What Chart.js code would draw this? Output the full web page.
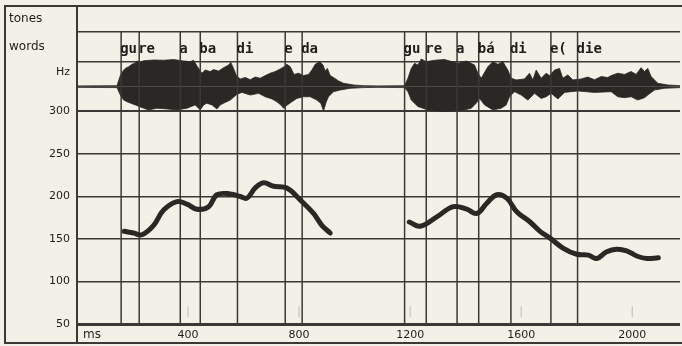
<!DOCTYPE html>
<html>
<head>
<meta charset="utf-8">
<script src="https://cdn.jsdelivr.net/npm/chart.js@4/dist/chart.umd.min.js"></script>
<style>
  html, body { margin: 0; padding: 0; background: #f3f1e7; }
  canvas { display: block; }
</style>
</head>
<body>
<canvas id="pitch" width="682" height="346"></canvas>
<script>
// segment boundaries (ms) and the word labels written after each one
const BOUNDARIES = [159, 224, 372, 444, 578, 750, 811, 1180, 1258, 1369, 1447, 1563, 1707, 1803];
const WORDS = ['gu', 're', 'a', 'ba', 'di', 'e', 'da', 'gu', 're', 'a', 'bá', 'di', 'e(', 'die'];

// F0 contour, utterance 1 and 2
const PITCH1_MS = [170, 204, 234, 276, 312, 360, 396, 432, 474, 504, 552, 588, 612, 642, 672, 708, 756, 804, 852, 882, 912];
const PITCH1_HZ = [159, 157, 155, 166, 184, 194, 191, 185, 188, 202, 203, 200, 198, 210, 216, 212, 210, 196, 180, 166, 157];
const PITCH2_MS = [1197, 1236, 1296, 1356, 1404, 1440, 1476, 1512, 1548, 1584, 1632, 1668, 1704, 1752, 1800, 1842, 1872, 1908, 1944, 1980, 2016, 2052, 2094];
const PITCH2_HZ = [170, 165, 176, 188, 185, 180, 192, 202, 198, 182, 170, 159, 151, 139, 132, 131, 127, 135, 138, 136, 130, 127, 128];

// waveform envelope (relative amplitude), upper and lower halves
const WAVE_UP_MS = [0, 144, 156, 168, 174, 186, 198, 210, 216, 228, 240, 276, 312, 348, 384, 408, 420, 434, 450, 462,
  480, 492, 510, 528, 546, 554, 564, 574, 588, 606, 624, 642, 660, 678, 696, 714, 732, 746, 756, 768,
  782, 798, 816, 834, 846, 858, 874, 886, 894, 902, 912, 924, 942, 960, 996, 1032, 1084,
  1180, 1192, 1204, 1216, 1228, 1240, 1258, 1288, 1324, 1372, 1402, 1432, 1444, 1456, 1480, 1498, 1516, 1534, 1552,
  1564, 1582, 1612, 1630, 1642, 1654, 1672, 1690, 1702, 1720, 1738, 1750, 1768, 1786, 1816, 1840, 1864, 1888, 1912,
  1924, 1948, 1972, 1996, 2014, 2032, 2044, 2056, 2068, 2092, 2128, 2172];
const WAVE_UP = [0.03, 0.04, 0.46, 0.69, 0.76, 0.83, 0.93, 0.99, 1.07, 1.01, 1.08, 1.11, 1.10, 1.13, 1.07, 1.04, 1.10, 0.83, 0.56, 0.69,
  0.63, 0.71, 0.65, 0.79, 0.90, 1.01, 0.76, 0.46, 0.32, 0.38, 0.29, 0.40, 0.35, 0.46, 0.56, 0.63, 0.74, 0.83, 0.93, 0.83,
  0.51, 0.56, 0.46, 0.51, 0.69, 0.93, 1.04, 0.90, 0.65, 0.76, 0.46, 0.38, 0.24, 0.14, 0.07, 0.04, 0.03,
  0.04, 0.35, 0.76, 0.97, 0.90, 1.15, 1.04, 1.10, 1.13, 0.97, 1.07, 0.90, 0.56, 0.35, 0.83, 1.04, 0.93, 1.04, 0.69,
  0.35, 0.28, 0.32, 0.56, 0.28, 0.69, 0.35, 0.56, 0.46, 0.69, 0.76, 0.35, 0.49, 0.28, 0.32, 0.40, 0.29, 0.42, 0.38,
  0.46, 0.56, 0.51, 0.63, 0.51, 0.79, 0.63, 0.76, 0.42, 0.14, 0.07, 0.04];
const WAVE_LOW_MS = [0, 144, 156, 168, 180, 210, 240, 258, 288, 324, 360, 396, 426, 444, 456, 468, 486, 504, 516, 528,
  552, 576, 594, 624, 654, 678, 702, 720, 734, 744, 758, 774, 792, 816, 840, 864, 878, 888, 898, 906,
  924, 948, 984, 1032, 1084,
  1180, 1192, 1204, 1228, 1264, 1324, 1396, 1420, 1438, 1450, 1468, 1498, 1528, 1546, 1558, 1576, 1600, 1624, 1648,
  1672, 1690, 1708, 1732, 1756, 1804, 1864, 1924, 1948, 1972, 1996, 2020, 2044, 2056, 2080, 2116, 2172];
const WAVE_LOW = [-0.03, -0.04, -0.35, -0.56, -0.63, -0.76, -0.90, -0.97, -0.90, -0.93, -0.97, -0.90, -0.76, -0.97, -0.76, -0.69, -0.76, -0.93, -0.76, -0.69,
  -0.56, -0.32, -0.24, -0.35, -0.28, -0.42, -0.51, -0.63, -0.76, -0.90, -0.76, -0.63, -0.49, -0.42, -0.42, -0.56, -0.69, -1.01, -0.63, -0.42,
  -0.21, -0.14, -0.07, -0.04, -0.03,
  -0.04, -0.21, -0.56, -0.83, -0.97, -1.04, -0.97, -0.90, -0.69, -0.49, -0.76, -0.97, -0.90, -0.76, -0.42, -0.21, -0.35, -0.56, -0.28,
  -0.49, -0.42, -0.28, -0.51, -0.24, -0.18, -0.24, -0.21, -0.42, -0.46, -0.42, -0.56, -0.46, -0.35, -0.14, -0.07, -0.04];

// axis ticks
const X_TICKS = [0, 400, 800, 1200, 1600, 2000];
const HZ_TICKS = [50, 100, 150, 200, 250, 300];

// row layout on the Hz axis (upper rows share the same scale)
const Y_MIN = 50, Y_MAX = 424;
const WAVE_ROW_TOP = 358.6;
const WORDS_ROW_TOP = 394;
const HZ_LABEL_AT = 346;
const WAVE_MIN = -9.89, WAVE_MAX = 3.36;

const INK = '#2b2724';
const GRID = '#3a3935';

const pts = (xs, ys) => xs.map((x, i) => ({ x: x, y: ys[i] }));

const boundaryData = [];
BOUNDARIES.forEach(b => {
  boundaryData.push({ x: b, y: Y_MIN }, { x: b, y: WORDS_ROW_TOP }, { x: b, y: null });
});

const tickMarkData = [];
X_TICKS.slice(1).forEach(t => {
  tickMarkData.push({ x: t, y: 58 }, { x: t, y: 71 }, { x: t, y: null });
});

const labelsPlugin = {
  id: 'labels',
  afterDraw(chart) {
    const ctx = chart.ctx;
    const xs = chart.scales.x, ys = chart.scales.y;
    const area = chart.chartArea;
    ctx.save();
    // outer frame + label column divider
    ctx.strokeStyle = GRID;
    ctx.lineWidth = 2;
    ctx.strokeRect(5, 6, 680, 337);
    ctx.beginPath();
    ctx.moveTo(area.left, 6);
    ctx.lineTo(area.left, 343);
    ctx.stroke();

    ctx.fillStyle = '#1f1d1b';
    ctx.font = '12px "DejaVu Sans"';
    ctx.textBaseline = 'middle';
    ctx.textAlign = 'left';
    ctx.fillText('tones', 9, (ys.getPixelForValue(Y_MAX) + ys.getPixelForValue(WORDS_ROW_TOP)) / 2);
    const wordsMid = (ys.getPixelForValue(WORDS_ROW_TOP) + ys.getPixelForValue(WAVE_ROW_TOP)) / 2;
    ctx.fillText('words', 9, wordsMid);
    ctx.fillText('ms', area.left + 6, 335);

    ctx.font = 'bold 14px "DejaVu Sans Mono"';
    ctx.textBaseline = 'alphabetic';
    WORDS.forEach((w, i) => {
      ctx.fillText(w, xs.getPixelForValue(BOUNDARIES[i]) - 1, wordsMid + 6);
    });
    ctx.restore();
  }
};

const waveSet = (xs, ys) => ({
  data: pts(xs, ys), yAxisID: 'wave',
  borderColor: INK, borderWidth: 0.8, pointRadius: 0, tension: 0,
  backgroundColor: INK, fill: 'origin', order: 3
});

new Chart(document.getElementById('pitch'), {
  type: 'line',
  data: {
    datasets: [
      {
        data: pts(PITCH1_MS, PITCH1_HZ),
        borderColor: INK, borderWidth: 5, tension: 0.4,
        borderCapStyle: 'round', borderJoinStyle: 'round',
        pointRadius: 0, order: 0
      },
      {
        data: pts(PITCH2_MS, PITCH2_HZ),
        borderColor: INK, borderWidth: 5, tension: 0.4,
        borderCapStyle: 'round', borderJoinStyle: 'round',
        pointRadius: 0, order: 0
      },
      {
        data: boundaryData,
        borderColor: GRID, borderWidth: 1.5, pointRadius: 0,
        spanGaps: false, order: 1
      },
      {
        data: tickMarkData,
        borderColor: '#bdbbb2', borderWidth: 1, pointRadius: 0,
        spanGaps: false, order: 2
      },
      waveSet(WAVE_UP_MS, WAVE_UP),
      waveSet(WAVE_LOW_MS, WAVE_LOW)
    ]
  },
  options: {
    responsive: false,
    animation: false,
    devicePixelRatio: 1,
    layout: { autoPadding: false, padding: { left: 5, top: 6, right: 2, bottom: 3 } },
    plugins: { legend: { display: false }, tooltip: { enabled: false } },
    scales: {
      x: {
        type: 'linear', min: 0, max: 2172,
        afterBuildTicks: s => { s.ticks = X_TICKS.map(v => ({ value: v })); },
        afterFit: s => { s.height = 19; s.paddingLeft = 0; s.paddingRight = 0; },
        grid: { display: false, drawTicks: false },
        border: { display: false },
        ticks: {
          autoSkip: false, maxRotation: 0, padding: 5, color: '#1f1d1b',
          font: { family: 'DejaVu Sans', size: 11 },
          callback: v => (v === 0 ? '' : String(v))
        }
      },
      y: {
        min: Y_MIN, max: Y_MAX,
        afterBuildTicks: s => {
          s.ticks = HZ_TICKS.concat([HZ_LABEL_AT, WAVE_ROW_TOP, WORDS_ROW_TOP]).map(v => ({ value: v }));
        },
        afterFit: s => { s.width = 72; s.paddingTop = 0; s.paddingBottom = 0; },
        border: { display: true, color: GRID, width: 2 },
        grid: {
          drawTicks: false,
          color: c => (c.tick && c.tick.value === HZ_LABEL_AT ? 'rgba(0,0,0,0)' : GRID),
          lineWidth: c => {
            if (!c.tick) return 1.5;
            if (c.tick.value === Y_MIN) return 3;
            if (c.tick.value === 300) return 2;
            return 1.5;
          }
        },
        ticks: {
          padding: 7, color: '#1f1d1b',
          font: { family: 'DejaVu Sans', size: 11 },
          callback: v => {
            if (v === HZ_LABEL_AT) return 'Hz';
            return HZ_TICKS.includes(v) ? String(v) : '';
          }
        }
      },
      wave: { display: false, min: WAVE_MIN, max: WAVE_MAX }
    }
  },
  plugins: [labelsPlugin]
});
</script>
</body>
</html>
